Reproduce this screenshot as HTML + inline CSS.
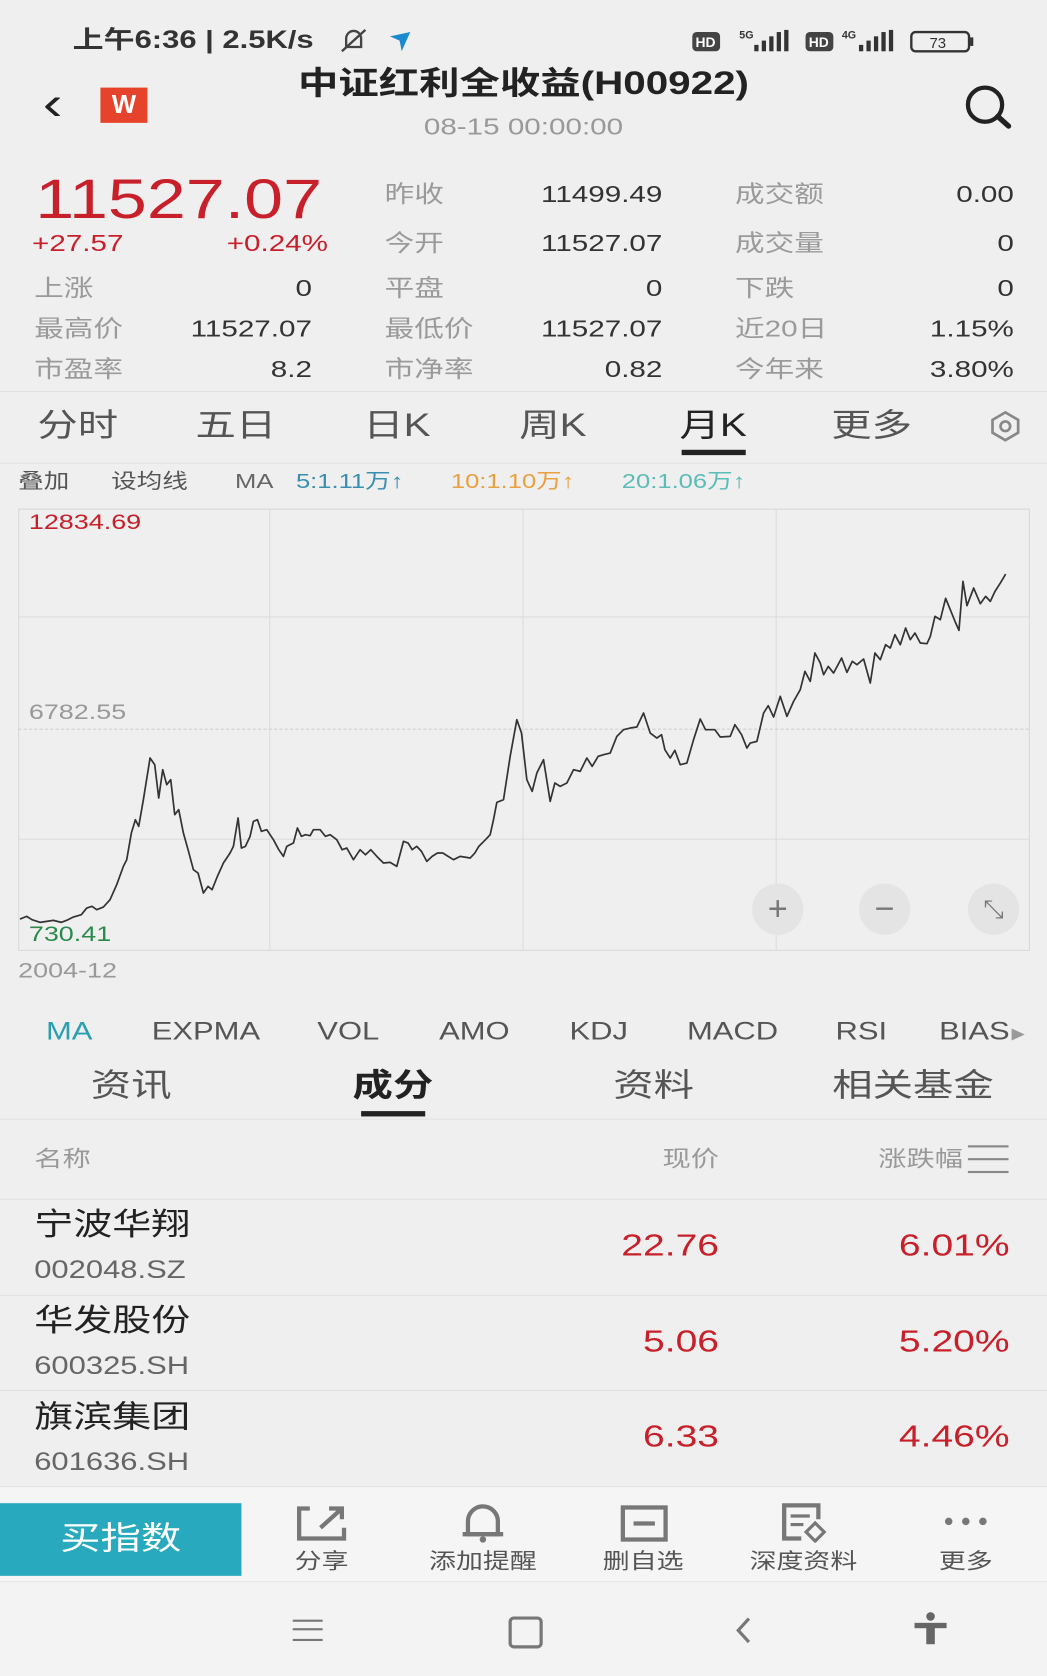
<!DOCTYPE html>
<html><head><meta charset="utf-8"><style>
html,body{margin:0;padding:0;background:#efefef;}
body{width:1047px;height:1676px;overflow:hidden;}
#w{position:absolute;left:0;top:0;width:980px;height:1568px;transform:scale(1.06837);transform-origin:0 0;background:#efefef;font-family:"Liberation Sans","Noto Sans CJK SC",sans-serif;}
.t{position:absolute;white-space:nowrap;line-height:1;transform:scaleX(1.26);transform-origin:left center;}
.r{text-align:right;transform-origin:right center;}
.c{text-align:center;transform-origin:center center;}
.b{position:absolute;}
.lab{color:#9a9a9a;font-size:22px;}
.val{color:#333;font-size:22px;}
.red{color:#c8202a;}
.hl{position:absolute;height:1px;background:#e2e2e2;}
</style></head><body><div id="w">
<!-- status bar -->
<div class="t" style="left:68px;top:26px;font-size:23px;color:#333;font-weight:bold;">上午6:36 | 2.5K/s</div>
<svg class="b" style="left:316px;top:24px" width="30" height="28"><path d="M8 20 V12 a7 7 0 0 1 14 0 V20 Z" fill="none" stroke="#444" stroke-width="2.2"/><line x1="4" y1="24" x2="26" y2="4" stroke="#444" stroke-width="2.2"/></svg>
<svg class="b" style="left:362px;top:28px" width="26" height="22"><path d="M3 6 L22 2 L14 20 L12 10 Z" fill="#1a8ad0"/></svg>
<svg class="b" style="left:646px;top:26px" width="270" height="26">
<rect x="2" y="4" width="26" height="18" rx="4" fill="#444"/><text x="5" y="18" font-size="13" fill="#fff" font-family="Liberation Sans" font-weight="bold">HD</text>
<text x="46" y="10" font-size="10" fill="#333" font-family="Liberation Sans" font-weight="bold">5G</text>
<rect x="60" y="16" width="4" height="6" fill="#333"/><rect x="67" y="12" width="4" height="10" fill="#333"/><rect x="74" y="8" width="4" height="14" fill="#333"/><rect x="81" y="4" width="4" height="18" fill="#333"/><rect x="88" y="2" width="4" height="20" fill="#333"/>
<rect x="108" y="4" width="26" height="18" rx="4" fill="#444"/><text x="111" y="18" font-size="13" fill="#fff" font-family="Liberation Sans" font-weight="bold">HD</text>
<text x="142" y="10" font-size="10" fill="#333" font-family="Liberation Sans" font-weight="bold">4G</text>
<rect x="158" y="16" width="4" height="6" fill="#333"/><rect x="165" y="12" width="4" height="10" fill="#333"/><rect x="172" y="8" width="4" height="14" fill="#333"/><rect x="179" y="4" width="4" height="18" fill="#333"/><rect x="186" y="2" width="4" height="20" fill="#333"/>
<rect x="207" y="4" width="54" height="18" rx="4" fill="none" stroke="#333" stroke-width="2.2"/><rect x="262" y="9" width="3" height="8" fill="#333"/><text x="224" y="19" font-size="14" fill="#333" font-family="Liberation Sans">73</text>
</svg>
<!-- header -->
<div class="t" style="left:40px;top:76px;font-size:44px;color:#222;">&#x2039;</div>
<div class="b" style="left:94px;top:82px;width:44px;height:33px;background:#e5432c;color:#fff;font-size:24px;text-align:center;line-height:33px;font-weight:bold;font-family:'Liberation Sans',sans-serif;">W</div>
<div class="t c" style="left:0;width:980px;top:64px;font-size:30px;color:#222;font-weight:bold;">中证红利全收益(H00922)</div>
<div class="t c" style="left:0;width:980px;top:108px;font-size:22px;color:#999;">08-15 00:00:00</div>
<svg class="b" style="left:898px;top:78px" width="52" height="44"><circle cx="24" cy="20" r="16" fill="none" stroke="#222" stroke-width="4"/><line x1="36" y1="31" x2="46" y2="40" stroke="#222" stroke-width="5" stroke-linecap="round"/></svg>
<!-- price block -->
<div class="t red" style="left:33px;top:161px;font-size:52px;">11527.07</div>
<div class="t red" style="left:30px;top:217px;font-size:22px;">+27.57</div>
<div class="t red r" style="left:150px;width:157px;top:217px;font-size:22px;">+0.24%</div>
<div class="t lab" style="left:32px;top:259px;">上涨</div><div class="t val r" style="left:150px;width:142px;top:259px;">0</div>
<div class="t lab" style="left:32px;top:297px;">最高价</div><div class="t val r" style="left:150px;width:142px;top:297px;">11527.07</div>
<div class="t lab" style="left:32px;top:335px;">市盈率</div><div class="t val r" style="left:150px;width:142px;top:335px;">8.2</div>
<div class="t lab" style="left:360px;top:171px;">昨收</div><div class="t val r" style="left:460px;width:160px;top:171px;">11499.49</div>
<div class="t lab" style="left:360px;top:217px;">今开</div><div class="t val r" style="left:460px;width:160px;top:217px;">11527.07</div>
<div class="t lab" style="left:360px;top:259px;">平盘</div><div class="t val r" style="left:460px;width:160px;top:259px;">0</div>
<div class="t lab" style="left:360px;top:297px;">最低价</div><div class="t val r" style="left:460px;width:160px;top:297px;">11527.07</div>
<div class="t lab" style="left:360px;top:335px;">市净率</div><div class="t val r" style="left:460px;width:160px;top:335px;">0.82</div>
<div class="t lab" style="left:688px;top:171px;">成交额</div><div class="t val r" style="left:800px;width:149px;top:171px;">0.00</div>
<div class="t lab" style="left:688px;top:217px;">成交量</div><div class="t val r" style="left:800px;width:149px;top:217px;">0</div>
<div class="t lab" style="left:688px;top:259px;">下跌</div><div class="t val r" style="left:800px;width:149px;top:259px;">0</div>
<div class="t lab" style="left:688px;top:297px;">近20日</div><div class="t val r" style="left:800px;width:149px;top:297px;">1.15%</div>
<div class="t lab" style="left:688px;top:335px;">今年来</div><div class="t val r" style="left:800px;width:149px;top:335px;">3.80%</div>
<div class="hl" style="left:0;width:980px;top:366px;"></div>
<!-- period tabs -->
<div class="t" style="left:35px;top:384px;font-size:30px;color:#555;">分时</div>
<div class="t" style="left:183px;top:384px;font-size:30px;color:#555;">五日</div>
<div class="t" style="left:340px;top:384px;font-size:30px;color:#555;">日K</div>
<div class="t" style="left:486px;top:384px;font-size:30px;color:#555;">周K</div>
<div class="t" style="left:636px;top:384px;font-size:30px;color:#222;">月K</div>
<div class="b" style="left:638px;top:421px;width:60px;height:5px;background:#222;"></div>
<div class="t" style="left:778px;top:384px;font-size:30px;color:#555;">更多</div>
<svg class="b" style="left:926px;top:384px" width="30" height="30"><polygon points="15,2 27,9 27,21 15,28 3,21 3,9" fill="none" stroke="#888" stroke-width="2.5"/><circle cx="15" cy="15" r="4.5" fill="none" stroke="#888" stroke-width="2.5"/></svg>
<div class="hl" style="left:0;width:980px;top:433px;"></div>
<!-- MA line -->
<div class="t" style="left:17px;top:442px;font-size:19px;color:#555;">叠加</div>
<div class="t" style="left:104px;top:442px;font-size:19px;color:#555;">设均线</div>
<div class="t" style="left:220px;top:442px;font-size:19px;color:#666;">MA</div>
<div class="t" style="left:277px;top:442px;font-size:19px;color:#3a8fb0;">5:1.11万↑</div>
<div class="t" style="left:422px;top:442px;font-size:19px;color:#e8a040;">10:1.10万↑</div>
<div class="t" style="left:582px;top:442px;font-size:19px;color:#5bbcb8;">20:1.06万↑</div>
<!-- chart -->
<div class="b" style="left:17px;top:476px;width:945px;height:412px;border:1px solid #d8d8d8;"></div>
<div class="b" style="left:252px;top:476px;width:1px;height:413px;background:#dcdcdc;"></div>
<div class="b" style="left:489px;top:476px;width:1px;height:413px;background:#dcdcdc;"></div>
<div class="b" style="left:726px;top:476px;width:1px;height:413px;background:#dcdcdc;"></div>
<div class="b" style="left:17px;top:577px;width:946px;height:1px;background:#dcdcdc;"></div>
<div class="b" style="left:17px;top:785px;width:946px;height:1px;background:#dcdcdc;"></div>
<div class="b" style="left:17px;top:682px;width:946px;height:0;border-top:1px dashed #d0d0d0;"></div>
<svg class="b" style="left:0;top:449.4px" width="980" height="468" viewBox="0 0 1570 1500" preserveAspectRatio="none">
<polyline fill="none" stroke="#333" stroke-width="1.6" vector-effect="non-scaling-stroke" stroke-linejoin="round" points="30,1318 40,1310 48,1320 60,1328 70,1325 80,1322 92,1328 100,1322 110,1312 122,1305 130,1285 138,1280 145,1290 155,1282 165,1260 175,1215 185,1160 190,1140 197,1060 203,1020 208,1040 215,960 225,835 232,855 238,955 244,870 250,915 256,900 262,1005 268,990 275,1060 282,1110 290,1170 297,1180 305,1240 312,1220 318,1230 326,1190 335,1150 345,1120 350,1100 357,1015 362,1105 368,1100 375,1070 380,1025 386,1020 392,1055 400,1050 410,1080 418,1110 425,1130 430,1100 440,1090 446,1045 452,1070 458,1065 465,1068 470,1050 480,1050 488,1070 495,1065 505,1080 513,1110 520,1105 530,1140 540,1110 548,1125 556,1110 565,1130 575,1150 585,1148 595,1160 605,1085 612,1090 618,1110 625,1100 632,1115 640,1145 648,1130 656,1120 664,1120 672,1130 680,1140 690,1130 705,1135 712,1120 718,1100 728,1080 735,1065 740,1020 745,968 755,960 765,830 775,720 782,760 790,900 798,935 805,880 815,840 825,965 832,910 840,920 850,910 860,870 870,875 880,835 888,860 897,830 905,825 915,820 925,770 935,750 945,745 955,742 965,700 975,760 985,775 992,765 997,810 1005,835 1012,812 1020,855 1030,850 1040,780 1050,718 1058,750 1072,750 1080,772 1095,770 1102,735 1112,765 1120,805 1125,790 1135,785 1145,700 1152,678 1160,712 1170,650 1180,710 1190,665 1200,630 1207,575 1215,605 1222,520 1230,550 1235,585 1242,560 1250,580 1262,535 1270,578 1278,545 1285,555 1295,538 1305,610 1312,520 1320,540 1328,495 1335,505 1342,465 1350,495 1358,445 1365,480 1372,460 1380,490 1390,492 1395,470 1402,410 1410,420 1418,356 1425,390 1432,425 1438,452 1444,305 1450,378 1460,325 1470,372 1478,350 1485,365 1492,335 1500,310 1508,283"/>
</svg>
<div class="t" style="left:27px;top:479px;font-size:20px;color:#c8202a;">12834.69</div>
<div class="t" style="left:27px;top:657px;font-size:20px;color:#999;">6782.55</div>
<div class="t" style="left:27px;top:865px;font-size:20px;color:#2a8a4a;">730.41</div>
<div class="t" style="left:17px;top:899px;font-size:20px;color:#999;">2004-12</div>
<div class="b" style="left:704px;top:827px;width:48px;height:48px;border-radius:50%;background:#e4e4e4;color:#777;font-size:32px;text-align:center;line-height:46px;font-family:'Liberation Sans',sans-serif;">+</div>
<div class="b" style="left:804px;top:827px;width:48px;height:48px;border-radius:50%;background:#e4e4e4;color:#777;font-size:32px;text-align:center;line-height:46px;font-family:'Liberation Sans',sans-serif;">−</div>
<div class="b" style="left:906px;top:827px;width:48px;height:48px;border-radius:50%;background:#e4e4e4;color:#777;font-size:24px;text-align:center;line-height:48px;font-family:'DejaVu Sans',sans-serif;">⤡</div>
<!-- indicators -->
<div class="t" style="left:43px;top:954px;font-size:23px;color:#2a9fb0;">MA</div>
<div class="t" style="left:142px;top:954px;font-size:23px;color:#555;">EXPMA</div>
<div class="t" style="left:297px;top:954px;font-size:23px;color:#555;">VOL</div>
<div class="t" style="left:411px;top:954px;font-size:23px;color:#555;">AMO</div>
<div class="t" style="left:533px;top:954px;font-size:23px;color:#555;">KDJ</div>
<div class="t" style="left:643px;top:954px;font-size:23px;color:#555;">MACD</div>
<div class="t" style="left:782px;top:954px;font-size:23px;color:#555;">RSI</div>
<div class="t" style="left:879px;top:954px;font-size:23px;color:#555;">BIAS<span style="font-size:12px;color:#999;">▶</span></div>
<!-- bottom tabs -->
<div class="t" style="left:85px;top:1002px;font-size:30px;color:#555;">资讯</div>
<div class="t" style="left:330px;top:1002px;font-size:30px;color:#222;font-weight:bold;">成分</div>
<div class="b" style="left:338px;top:1040px;width:60px;height:5px;background:#222;"></div>
<div class="t" style="left:574px;top:1002px;font-size:30px;color:#555;">资料</div>
<div class="t" style="left:779px;top:1002px;font-size:30px;color:#555;">相关基金</div>
<div class="hl" style="left:0;width:980px;top:1047px;"></div>
<div class="t" style="left:32px;top:1075px;font-size:21px;color:#999;">名称</div>
<div class="t r" style="left:500px;width:173px;top:1075px;font-size:21px;color:#999;">现价</div>
<div class="t" style="left:822px;top:1075px;font-size:21px;color:#999;">涨跌幅</div>
<div class="b" style="left:906px;top:1072px;width:38px;height:22px;border-top:2px solid #888;border-bottom:2px solid #888;"></div>
<div class="b" style="left:906px;top:1084px;width:38px;height:2px;background:#888;"></div>
<div class="hl" style="left:0;width:980px;top:1122px;"></div>
<div class="t" style="left:32px;top:1133px;font-size:29px;color:#222;">宁波华翔</div>
<div class="t" style="left:32px;top:1177px;font-size:23px;color:#666;">002048.SZ</div>
<div class="t red r" style="left:500px;width:173px;top:1152px;font-size:29px;">22.76</div>
<div class="t red r" style="left:780px;width:165px;top:1152px;font-size:29px;">6.01%</div>
<div class="hl" style="left:0;width:980px;top:1212px;"></div>
<div class="t" style="left:32px;top:1223px;font-size:29px;color:#222;">华发股份</div>
<div class="t" style="left:32px;top:1267px;font-size:23px;color:#666;">600325.SH</div>
<div class="t red r" style="left:500px;width:173px;top:1242px;font-size:29px;">5.06</div>
<div class="t red r" style="left:780px;width:165px;top:1242px;font-size:29px;">5.20%</div>
<div class="hl" style="left:0;width:980px;top:1301px;"></div>
<div class="t" style="left:32px;top:1313px;font-size:29px;color:#222;">旗滨集团</div>
<div class="t" style="left:32px;top:1357px;font-size:23px;color:#666;">601636.SH</div>
<div class="t red r" style="left:500px;width:173px;top:1331px;font-size:29px;">6.33</div>
<div class="t red r" style="left:780px;width:165px;top:1331px;font-size:29px;">4.46%</div>
<!-- action bar -->
<div class="b" style="left:0;top:1391px;width:980px;height:88px;background:#f5f5f5;border-top:1px solid #e2e2e2;"></div>
<div class="b" style="left:0;top:1407px;width:226px;height:68px;background:#29a9bd;"></div>
<div class="t c" style="left:0;top:1426px;width:226px;color:#fff;font-size:30px;">买指数</div>
<svg class="b" style="left:276px;top:1408px" width="50" height="36"><path d="M14 4 H4 V32 H46 V22" fill="none" stroke="#777" stroke-width="4"/><path d="M24 22 L44 4 M32 4 H44 V14" fill="none" stroke="#777" stroke-width="4"/></svg>
<svg class="b" style="left:430px;top:1406px" width="44" height="38"><path d="M8 30 V18 a14 14 0 0 1 28 0 V30 Z" fill="none" stroke="#777" stroke-width="4"/><line x1="3" y1="30" x2="41" y2="30" stroke="#777" stroke-width="4"/><circle cx="22" cy="35" r="3" fill="#777"/></svg>
<svg class="b" style="left:580px;top:1408px" width="46" height="36"><rect x="3" y="3" width="40" height="30" fill="none" stroke="#777" stroke-width="4"/><line x1="13" y1="18" x2="33" y2="18" stroke="#777" stroke-width="4"/></svg>
<svg class="b" style="left:730px;top:1406px" width="46" height="38"><path d="M20 34 H4 V3 H36 V16" fill="none" stroke="#777" stroke-width="4"/><line x1="10" y1="13" x2="28" y2="13" stroke="#777" stroke-width="3"/><line x1="10" y1="21" x2="22" y2="21" stroke="#777" stroke-width="3"/><rect x="27" y="22" width="12" height="12" transform="rotate(45 33 28)" fill="none" stroke="#777" stroke-width="3"/></svg>
<svg class="b" style="left:882px;top:1418px" width="46" height="12"><circle cx="6" cy="6" r="3.5" fill="#777"/><circle cx="22" cy="6" r="3.5" fill="#777"/><circle cx="38" cy="6" r="3.5" fill="#777"/></svg>
<div class="t c" style="left:251px;width:100px;top:1452px;font-size:20px;color:#555;">分享</div>
<div class="t c" style="left:392px;width:120px;top:1452px;font-size:20px;color:#555;">添加提醒</div>
<div class="t c" style="left:552px;width:100px;top:1452px;font-size:20px;color:#555;">删自选</div>
<div class="t c" style="left:692px;width:120px;top:1452px;font-size:20px;color:#555;">深度资料</div>
<div class="t c" style="left:854px;width:100px;top:1452px;font-size:20px;color:#555;">更多</div>
<!-- nav bar -->
<div class="b" style="left:0;top:1480px;width:980px;height:88px;background:#f3f3f3;border-top:1px solid #e6e6e6;"></div>
<div class="b" style="left:274px;top:1516px;width:28px;height:16px;border-top:2px solid #777;border-bottom:2px solid #777;"></div>
<div class="b" style="left:274px;top:1524px;width:28px;height:2px;background:#777;"></div>
<div class="b" style="left:476px;top:1513px;width:26px;height:24px;border:3px solid #777;border-radius:5px;"></div>
<svg class="b" style="left:686px;top:1512px" width="20" height="28"><path d="M15 3 L5 14 L15 25" fill="none" stroke="#777" stroke-width="3"/></svg>
<svg class="b" style="left:854px;top:1508px" width="34" height="32"><circle cx="17" cy="5" r="4" fill="#666"/><rect x="2" y="11" width="30" height="5" fill="#666"/><rect x="13" y="14" width="8" height="17" fill="#666"/></svg>
</div></body></html>
